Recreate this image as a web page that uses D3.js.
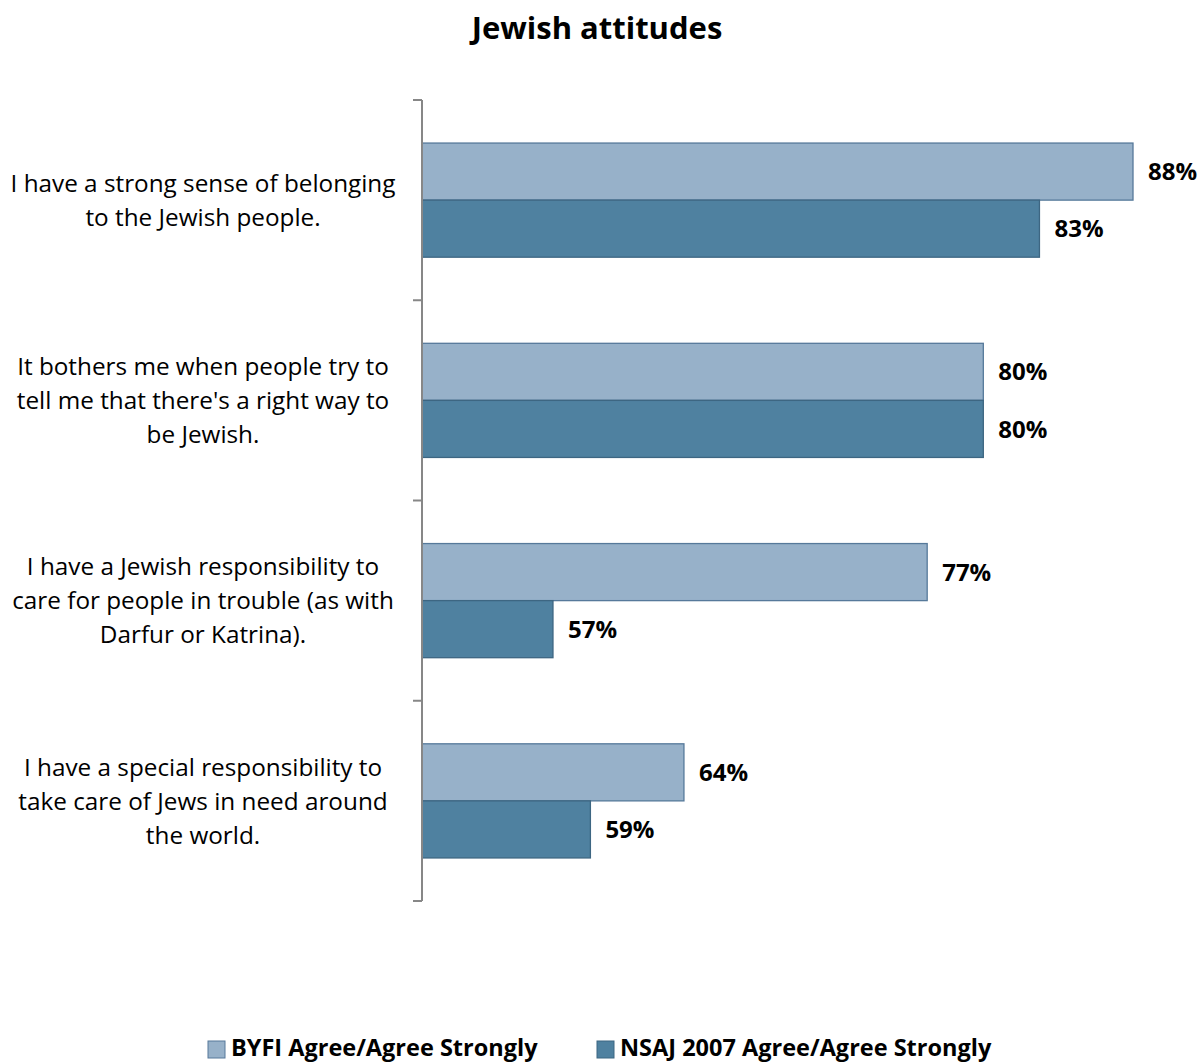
<!DOCTYPE html>
<html>
<head>
<meta charset="utf-8">
<script src="https://cdn.jsdelivr.net/npm/d3@7/dist/d3.min.js"></script>
<style>
  html, body { margin: 0; padding: 0; background: #fff; }
  svg { display: block; }
  text { font-family: "Open Sans", Lato, sans-serif; fill: #000; }
</style>
</head>
<body>
<svg id="chart" width="1201" height="1062"></svg>
<script>
// Survey statements (top to bottom), each line of the label as drawn
const statements = [
  ["I have a strong sense of belonging", "to the Jewish people."],
  ["It bothers me when people try to", "tell me that there's a right way to", "be Jewish."],
  ["I have a Jewish responsibility to", "care for people in trouble (as with", "Darfur or Katrina)."],
  ["I have a special responsibility to", "take care of Jews in need around", "the world."]
];
const seriesNames = ["BYFI Agree/Agree Strongly", "NSAJ 2007 Agree/Agree Strongly"];
const byfiValues = [88, 80, 77, 64];
const nsajValues = [83, 80, 57, 59];
const seriesColors = ["#97B1C9", "#4F81A0"];
const seriesStrokes = ["#56799A", "#3D6682"];

const svg = d3.select("#chart");

const plot = { left: 422, top: 100, bottom: 901 };

const y = d3.scaleBand()
  .domain(d3.range(statements.length))
  .range([plot.top, plot.bottom])
  .paddingInner(0.43)
  .paddingOuter(0.215);

const x = d3.scaleLinear().domain([50, 88]).range([plot.left, 1133]);

const barH = y.bandwidth() / 2;

// title
svg.append("text")
  .attr("x", 597).attr("y", 39)
  .attr("text-anchor", "middle")
  .style("font-size", "31px").style("font-weight", "bold")
  .text("Jewish attitudes");

// bars
const series = [byfiValues, nsajValues];
series.forEach((vals, s) => {
  const g = svg.append("g");
  g.selectAll("rect").data(vals).join("rect")
    .attr("x", x(50))
    .attr("y", (d, i) => y(i) + s * barH)
    .attr("width", d => x(d) - x(50))
    .attr("height", barH)
    .attr("fill", seriesColors[s])
    .attr("stroke", seriesStrokes[s])
    .attr("stroke-width", 1.3);
  g.selectAll("text").data(vals).join("text")
    .attr("x", d => x(d) + 15)
    .attr("y", (d, i) => y(i) + s * barH + barH / 2)
    .attr("dy", "0.36em")
    .style("font-size", "24px").style("font-weight", "bold")
    .text(d => d + "%");
});

// category axis with ticks at band boundaries
const axisG = svg.append("g");
axisG.append("line")
  .attr("x1", plot.left).attr("x2", plot.left)
  .attr("y1", plot.top).attr("y2", plot.bottom)
  .attr("stroke", "#878787").attr("stroke-width", 2);
const step = (plot.bottom - plot.top) / statements.length;
axisG.selectAll("line.tick").data(d3.range(statements.length + 1)).join("line")
  .attr("class", "tick")
  .attr("x1", plot.left - 9).attr("x2", plot.left)
  .attr("y1", d => plot.top + d * step).attr("y2", d => plot.top + d * step)
  .attr("stroke", "#878787").attr("stroke-width", 2);

// category labels
const lineH = 34;
statements.forEach((lines, i) => {
  const cy = y(i) + y.bandwidth() / 2;
  const t = svg.append("text")
    .attr("text-anchor", "middle")
    .style("font-size", "24.3px");
  lines.forEach((ln, k) => {
    t.append("tspan")
      .attr("x", 203)
      .attr("y", cy + (k - (lines.length - 1) / 2) * lineH)
      .attr("dy", "0.36em")
      .text(ln);
  });
});

// legend
const legendX = [208, 597];
seriesNames.forEach((name, s) => {
  svg.append("rect")
    .attr("x", legendX[s]).attr("y", 1041)
    .attr("width", 17).attr("height", 17)
    .attr("fill", seriesColors[s])
    .attr("stroke", seriesStrokes[s]).attr("stroke-width", 1);
  svg.append("text")
    .attr("x", legendX[s] + 23).attr("y", 1048)
    .attr("dy", "0.36em")
    .style("font-size", "23.5px").style("font-weight", "bold")
    .text(name);
});
</script>
</body>
</html>
